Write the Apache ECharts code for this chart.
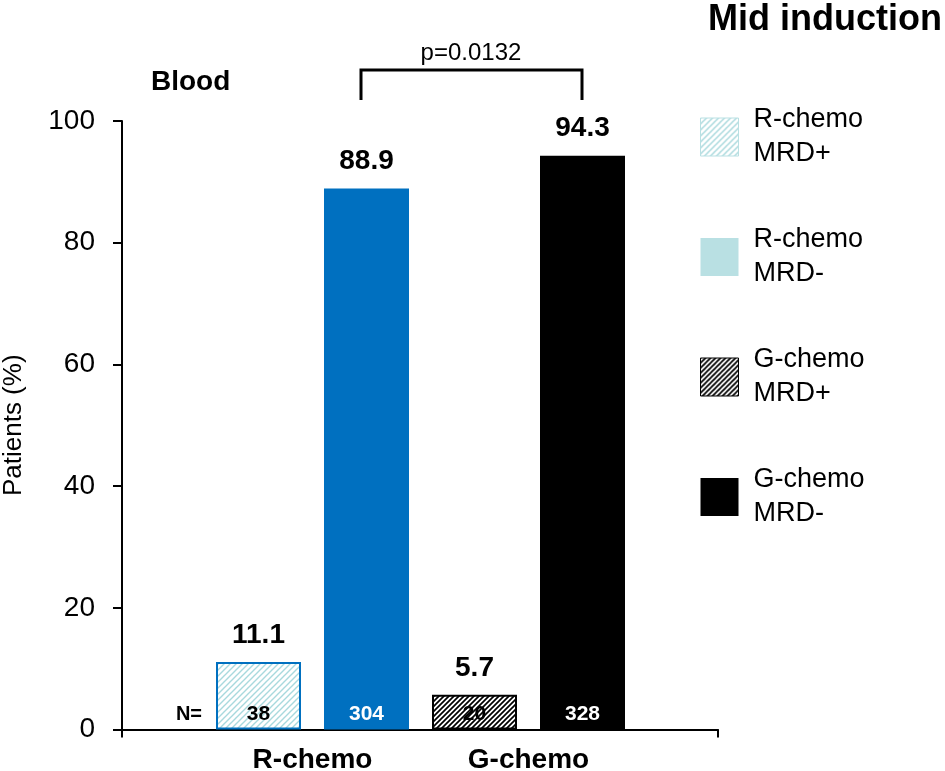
<!DOCTYPE html>
<html>
<head>
<meta charset="utf-8">
<script src="https://cdn.jsdelivr.net/npm/echarts@6/dist/echarts.min.js"></script>
<style>
  html, body { margin: 0; padding: 0; background: #fff; }
  #chart { width: 945px; height: 771px; }
</style>
</head>
<body>
<div id="chart"></div>
<script>
// Group labels on the category axis
const groups = ['R-chemo', 'G-chemo'];
// One bar per treatment / MRD status
const seriesNames = ['R-chemo\nMRD+', 'R-chemo\nMRD-', 'G-chemo\nMRD+', 'G-chemo\nMRD-'];
const values = [11.1, 88.9, 5.7, 94.3];       // Patients (%)
const nCounts = [38, 304, 20, 328];           // N per bar
const yMin = 0, yMax = 100, yStep = 20;
const pValue = 'p=0.0132';

const FONT = "'Liberation Sans', Arial, sans-serif";

// Diagonal hatch fill drawn on a small tile
function hatch(bg, fg, size, lw) {
  const c = document.createElement('canvas');
  c.width = c.height = size;
  const ctx = c.getContext('2d');
  ctx.fillStyle = bg;
  ctx.fillRect(0, 0, size, size);
  ctx.strokeStyle = fg;
  ctx.lineWidth = lw;
  ctx.beginPath();
  ctx.moveTo(0, size); ctx.lineTo(size, 0);
  ctx.moveTo(-size / 2, size / 2); ctx.lineTo(size / 2, -size / 2);
  ctx.moveTo(size / 2, size * 1.5); ctx.lineTo(size * 1.5, size / 2);
  ctx.stroke();
  return { image: c, repeat: 'repeat' };
}

const tealHatch = hatch('#ffffff', '#A8D9DD', 6, 1.4);
const blackHatch = hatch('#ffffff', '#000000', 5, 1.7);

const barStyles = [
  { color: tealHatch, borderColor: '#0070C0', borderWidth: 2 },
  { color: '#0070C0' },
  { color: blackHatch, borderColor: '#000000', borderWidth: 2 },
  { color: '#000000' }
];
const legendStyles = [
  { color: tealHatch, borderColor: '#B9E0E3', borderWidth: 1 },
  { color: '#B9E0E3', borderWidth: 0 },
  { color: blackHatch, borderColor: '#000000', borderWidth: 1 },
  { color: '#000000', borderWidth: 0 }
];

const barKeys = seriesNames.map(function (s) { return s.replace('\n', ' '); });

const series = seriesNames.map(function (name, i) {
  return {
    name: name,
    type: 'bar',
    xAxisIndex: 2,
    yAxisIndex: 1,
    barWidth: 85,
    barGap: '-100%',
    itemStyle: barStyles[i],
    label: {
      show: true,
      position: 'top',
      distance: 13,
      color: '#000',
      fontFamily: FONT,
      fontWeight: 'bold',
      fontSize: 28,
      formatter: '{c}'
    },
    data: values.map(function (v, j) { return j === i ? v : '-'; })
  };
});

const chart = echarts.init(document.getElementById('chart'), null, { renderer: 'canvas' });

chart.setOption({
  animation: false,
  backgroundColor: '#fff',
  grid: [
    { left: 122, right: 227, top: 121, bottom: 41.5, outerBoundsMode: 'none' },
    { left: 204.5, width: 432, top: 121, bottom: 41.5, outerBoundsMode: 'none' }
  ],
  xAxis: [
    {
      gridIndex: 0,
      type: 'category',
      position: 'bottom',
      data: [''],
      axisLine: { lineStyle: { color: '#000', width: 2 } },
      axisTick: { show: true, length: 8, lineStyle: { color: '#000', width: 2 } },
      axisLabel: { show: false }
    },
    {
      gridIndex: 1,
      type: 'category',
      position: 'bottom',
      data: groups,
      axisLine: { show: false },
      axisTick: { show: false },
      axisLabel: {
        interval: 0,
        margin: 17,
        color: '#000',
        fontFamily: FONT,
        fontWeight: 'bold',
        fontSize: 28
      }
    },
    {
      gridIndex: 1,
      type: 'category',
      position: 'bottom',
      data: barKeys,
      z: 10,
      axisLine: { show: false },
      axisTick: { show: false },
      axisLabel: {
        inside: true,
        interval: 0,
        margin: 5,
        fontFamily: FONT,
        fontWeight: 'bold',
        fontSize: 21,
        color: function (val, idx) { return idx === 1 || idx === 3 ? '#ffffff' : '#000000'; },
        formatter: function (val, idx) { return String(nCounts[idx]); }
      }
    }
  ],
  yAxis: [
    {
      gridIndex: 0,
      type: 'value',
      min: yMin,
      max: yMax,
      interval: yStep,
      name: 'Patients (%)',
      nameLocation: 'middle',
      nameGap: 95,
      nameTextStyle: { color: '#000', fontFamily: FONT, fontSize: 26 },
      axisLine: { show: true, lineStyle: { color: '#000', width: 2 } },
      axisTick: { show: true, length: 9, lineStyle: { color: '#000', width: 2 } },
      splitLine: { show: false },
      axisLabel: { margin: 27, color: '#000', fontFamily: FONT, fontSize: 28 }
    },
    {
      gridIndex: 1,
      type: 'value',
      min: yMin,
      max: yMax,
      show: false,
      splitLine: { show: false }
    }
  ],
  legend: {
    orient: 'vertical',
    left: 695,
    top: 98,
    itemWidth: 38,
    itemHeight: 38,
    itemGap: 52,
    icon: 'rect',
    selectedMode: false,
    textStyle: {
      color: '#000',
      fontFamily: FONT,
      fontSize: 27,
      lineHeight: 34,
      padding: [0, 0, 0, 10]
    },
    data: seriesNames.map(function (n, i) { return { name: n, itemStyle: legendStyles[i] }; })
  },
  graphic: [
    {
      type: 'text', right: 3, top: 2,
      style: { text: 'Mid induction', fill: '#000', font: 'bold 36px ' + FONT }
    },
    {
      type: 'text', x: 151, y: 82.5,
      style: { text: 'Blood', fill: '#000', font: 'bold 28px ' + FONT, verticalAlign: 'middle' }
    },
    {
      type: 'text', x: 471, y: 53.5,
      style: { text: pValue, fill: '#000', font: '24px ' + FONT, align: 'center', verticalAlign: 'middle' }
    },
    {
      type: 'polyline',
      shape: { points: [[361, 100], [361, 70], [582, 70], [582, 100]] },
      style: { stroke: '#000', lineWidth: 3, fill: null }
    },
    {
      type: 'text', x: 202, y: 714,
      style: { text: 'N=', fill: '#000', font: 'bold 20px ' + FONT, align: 'right', verticalAlign: 'middle' }
    }
  ],
  series: series
});
</script>
</body>
</html>
